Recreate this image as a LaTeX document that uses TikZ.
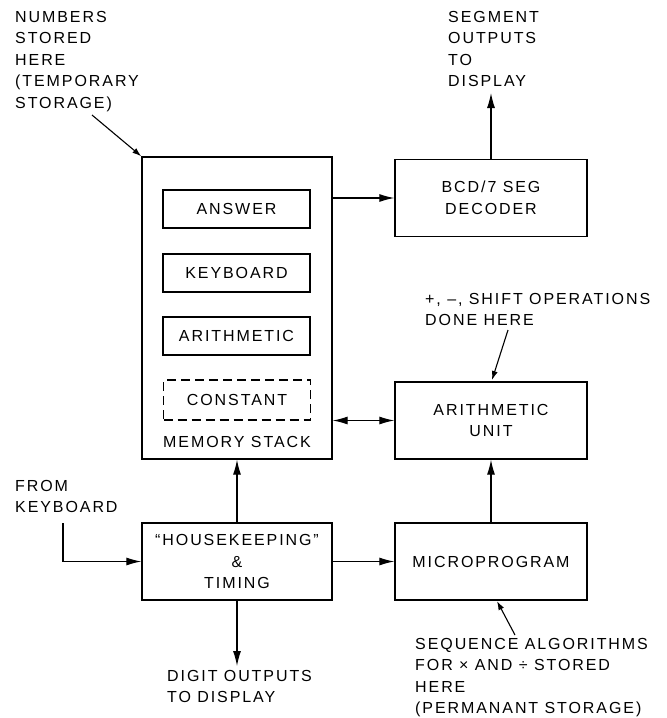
\documentclass[tikz,border=0pt]{standalone}
\usepackage{fontspec}
\setmainfont{Liberation Sans}[LetterSpace=12]
\usetikzlibrary{arrows.meta}

\tikzset{
  blk/.style={draw, line width=1.4pt, minimum width=192pt, minimum height=77pt, align=center, inner sep=0pt},
  reg/.style={draw, line width=1.2pt, minimum width=147pt, minimum height=38pt, inner sep=0pt},
  note/.style={align=left, anchor=north west, inner sep=0pt},
  arr/.style={line width=1.1pt, -{Latex[length=15pt,width=8pt]}},
}

\begin{document}
\begin{tikzpicture}[x=1pt, y=-1pt, font=\fontsize{16}{21.5}\selectfont]
  \useasboundingbox (0,0) rectangle (667,718);
  % memory stack and its registers
  \node[blk, minimum width=190pt, minimum height=302pt] (mem) at (237,308) {};
  \foreach \y/\t/\n in {209/ANSWER/ans, 273/KEYBOARD/kbd, 336/ARITHMETIC/ari}
    \node[reg] (\n) at (236.5,\y) {\t};
  \node[reg, dashed, dash pattern=on 9pt off 5pt, minimum height=40pt] (con) at (237,400) {CONSTANT};
  \node (stk) at (237,442) {MEMORY STACK};
  % other blocks
  \node[blk] (dec) at (491,198) {BCD/7 SEG\\DECODER};
  \node[blk] (au) at (491,420.5) {ARITHMETIC\\UNIT};
  \node[blk] (mic) at (491,561.5) {MICROPROGRAM};
  \node[blk, minimum width=190pt] (hk) at (237,561.5) {“HOUSEKEEPING”\\\&\\TIMING};
  % notes
  \node[note] (num) at (15,11) {NUMBERS\\STORED\\HERE\\(TEMPORARY\\STORAGE)};
  \node[note] (seg) at (448,11) {SEGMENT\\OUTPUTS\\TO\\DISPLAY};
  \node[note] (ops) at (425,293) {+, --, SHIFT OPERATIONS\\DONE HERE};
  \node[note] (kb) at (15,480) {FROM\\KEYBOARD};
  \node[note] (dig) at (167,670) {DIGIT OUTPUTS\\TO DISPLAY};
  \node[note] (seq) at (415,638) {SEQUENCE ALGORITHMS\\FOR × AND ÷ STORED\\HERE\\(PERMANANT STORAGE)};
  \coordinate (segout) at (491,93);
  \coordinate (digout) at (237,666);
  \coordinate (kbin) at (63,523);
  % connectors
  \draw[arr] (dec.west -| mem.east) -- (dec.west);
  \draw[arr] (dec.north) -- (segout);
  \draw[arr, {Latex[length=15pt,width=8pt]}-{Latex[length=15pt,width=8pt]}] (au.west -| mem.east) -- (au.west);
  \draw[arr] (mic.north) -- (au.south);
  \draw[arr] (hk.east) -- (mic.west);
  \draw[arr] (hk.north) -- (mem.south);
  \draw[arr] (hk.south) -- (digout);
  \draw[arr] (kbin) |- (hk.west);
  % pointers from the notes
  \draw[arr, -{Latex[length=9pt,width=6pt]}] (92,115) -- (mem.north west);
  \draw[arr, -{Latex[length=9pt,width=6pt]}] (508,330) -- (492,380);
  \draw[arr, -{Latex[length=9pt,width=6pt]}] (515,635) -- (497,601);
\end{tikzpicture}
\end{document}
